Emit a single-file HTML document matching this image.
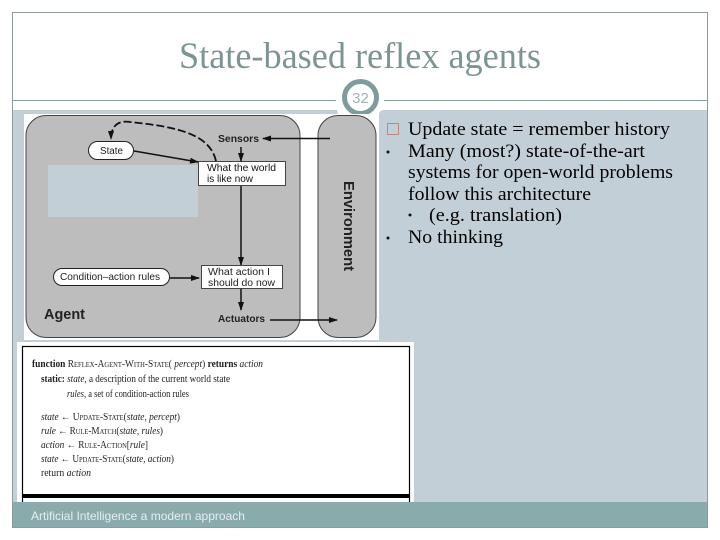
<!DOCTYPE html>
<html><head><meta charset="utf-8"><style>
html,body{margin:0;padding:0;background:#fff;width:720px;height:540px;overflow:hidden}
svg{display:block}
.sc{font-variant:small-caps}
i{font-style:italic}
</style></head><body>
<svg width="720" height="540" viewBox="0 0 720 540" xmlns="http://www.w3.org/2000/svg">
<defs>
<marker id="a" markerWidth="9" markerHeight="7" refX="8" refY="3" orient="auto" markerUnits="userSpaceOnUse"><path d="M0 0L9 3L0 6Z" fill="#111"/></marker>
</defs>
<rect width="720" height="540" fill="#fff"/>
<rect x="12.500" y="12.500" width="695" height="515" fill="#fff" stroke="#8a9c9c" stroke-width="1"/>
<line x1="13" y1="100.500" x2="707" y2="100.500" stroke="#8a9c9c"/>
<rect x="13" y="110" width="694" height="393" fill="#c3cfd6"/>
<path d="M336 100H384V110H384Q379 110 379 115V116H338Z" fill="#fff"/>
<circle cx="360.500" cy="97.500" r="16" fill="#fff" stroke="#7f9c9c" stroke-width="5"/>
<text x="360.500" y="103" font-family="Liberation Sans,sans-serif" font-size="15" fill="#a5b2b2" text-anchor="middle">32</text>
<text x="179" y="68" font-family="Liberation Serif,serif" font-size="37" fill="#7d9494" textLength="362" lengthAdjust="spacingAndGlyphs">State-based reflex agents</text>

<rect x="24" y="114" width="355" height="226" fill="#fff"/>
<rect x="26" y="115.500" width="274" height="222" rx="20" fill="#bdbdbd" stroke="#444" stroke-width="1"/>
<rect x="318" y="115.500" width="58" height="222" rx="20" fill="#bdbdbd" stroke="#444" stroke-width="1"/>
<rect x="48" y="165" width="150" height="52" fill="#c3cfd6"/>

<rect x="88.500" y="141.500" width="45" height="18" rx="9" fill="#fff" stroke="#222"/>
<text x="100" y="154" font-family="Liberation Sans,sans-serif" font-size="10" fill="#222" textLength="23" lengthAdjust="spacingAndGlyphs">State</text>
<rect x="198.500" y="161.500" width="87" height="24" fill="#fff" stroke="#444"/>
<text x="207" y="171" font-family="Liberation Sans,sans-serif" font-size="10.500" fill="#111" textLength="69" lengthAdjust="spacingAndGlyphs">What the world</text>
<text x="207" y="182" font-family="Liberation Sans,sans-serif" font-size="10.500" fill="#111" textLength="46" lengthAdjust="spacingAndGlyphs">is like now</text>
<text x="218" y="142" font-family="Liberation Sans,sans-serif" font-size="10.500" font-weight="bold" fill="#222" textLength="41" lengthAdjust="spacingAndGlyphs">Sensors</text>
<path d="M330 138.500H263" stroke="#111" stroke-width="1.500" fill="none" marker-end="url(#a)"/>
<path d="M241 147V161" stroke="#111" stroke-width="1.500" fill="none" marker-end="url(#a)"/>
<path d="M216 161C210 135 180 127 130 122C118 120 111 126 111 139" stroke="#111" stroke-width="1.800" stroke-dasharray="8 3" fill="none" marker-end="url(#a)"/>
<path d="M134 151L198 162" stroke="#111" stroke-width="1.500" fill="none" marker-end="url(#a)"/>
<path d="M241 186V265" stroke="#111" stroke-width="1.500" fill="none" marker-end="url(#a)"/>

<rect x="53.500" y="268.500" width="116" height="17" rx="8.500" fill="#fff" stroke="#222"/>
<text x="60" y="280" font-family="Liberation Sans,sans-serif" font-size="10.500" fill="#222" textLength="100" lengthAdjust="spacingAndGlyphs">Condition–action rules</text>
<path d="M170 278H199" stroke="#111" stroke-width="1.500" fill="none" marker-end="url(#a)"/>
<rect x="201.500" y="265.500" width="81" height="23" fill="#fff" stroke="#444"/>
<text x="208" y="275" font-family="Liberation Sans,sans-serif" font-size="10.500" fill="#222" textLength="62" lengthAdjust="spacingAndGlyphs">What action I</text>
<text x="208" y="286" font-family="Liberation Sans,sans-serif" font-size="10.500" fill="#222" textLength="67" lengthAdjust="spacingAndGlyphs">should do now</text>
<path d="M241 289V310" stroke="#111" stroke-width="1.500" fill="none" marker-end="url(#a)"/>
<text x="218" y="322" font-family="Liberation Sans,sans-serif" font-size="10.500" font-weight="bold" fill="#222" textLength="47" lengthAdjust="spacingAndGlyphs">Actuators</text>
<path d="M270 320H337" stroke="#111" stroke-width="1.500" fill="none" marker-end="url(#a)"/>
<text x="44" y="319" font-family="Liberation Sans,sans-serif" font-size="15" font-weight="bold" fill="#222" textLength="41" lengthAdjust="spacingAndGlyphs">Agent</text>
<text transform="translate(344,181) rotate(90)" font-family="Liberation Sans,sans-serif" font-size="14.500" font-weight="bold" fill="#222" textLength="90" lengthAdjust="spacingAndGlyphs">Environment</text>

<rect x="17" y="342" width="397" height="161" fill="#fff"/>
<rect x="22.500" y="346.500" width="387" height="157" fill="#fff" stroke="#000" stroke-width="1.200"/>
<rect x="22" y="494" width="388" height="4" fill="#000"/>
<g font-family="Liberation Serif,serif" font-size="10" fill="#222">
<text x="32" y="367" textLength="231" lengthAdjust="spacingAndGlyphs"><tspan font-weight="bold">function</tspan> <tspan class="sc">Reflex-Agent-With-State</tspan>( <tspan font-style="italic">percept</tspan>) <tspan font-weight="bold">returns</tspan> <tspan font-style="italic">action</tspan></text>
<text x="41" y="382" textLength="189" lengthAdjust="spacingAndGlyphs"><tspan font-weight="bold">static:</tspan> <tspan font-style="italic">state</tspan>, a description of the current world state</text>
<text x="67" y="397" textLength="122" lengthAdjust="spacingAndGlyphs"><tspan font-style="italic">rules</tspan>, a set of condition-action rules</text>
<text x="41" y="420" textLength="139" lengthAdjust="spacingAndGlyphs"><tspan font-style="italic">state</tspan> ← <tspan class="sc">Update-State</tspan>(<tspan font-style="italic">state, percept</tspan>)</text>
<text x="41" y="434" textLength="122" lengthAdjust="spacingAndGlyphs"><tspan font-style="italic">rule</tspan> ← <tspan class="sc">Rule-Match</tspan>(<tspan font-style="italic">state, rules</tspan>)</text>
<text x="41" y="448" textLength="107" lengthAdjust="spacingAndGlyphs"><tspan font-style="italic">action</tspan> ← <tspan class="sc">Rule-Action</tspan>[<tspan font-style="italic">rule</tspan>]</text>
<text x="41" y="462" textLength="133" lengthAdjust="spacingAndGlyphs"><tspan font-style="italic">state</tspan> ← <tspan class="sc">Update-State</tspan>(<tspan font-style="italic">state, action</tspan>)</text>
<text x="41" y="476" textLength="50" lengthAdjust="spacingAndGlyphs">return <tspan font-style="italic">action</tspan></text>
</g>

<rect x="13" y="502" width="694" height="25" fill="#8aabab"/>
<text x="31" y="520" font-family="Liberation Sans,sans-serif" font-size="12" fill="#e6eeee" textLength="214" lengthAdjust="spacingAndGlyphs">Artificial Intelligence a modern approach</text>

<rect x="387.500" y="123.500" width="11" height="11" fill="none" stroke="#b98a80"/>
<g font-family="Liberation Serif,serif" font-size="18.500" fill="#000">
<text x="408" y="135" textLength="262" lengthAdjust="spacingAndGlyphs">Update state = remember history</text>
<text x="408" y="157" textLength="237" lengthAdjust="spacingAndGlyphs">Many (most?) state-of-the-art</text>
<text x="408" y="178" textLength="265" lengthAdjust="spacingAndGlyphs">systems for open-world problems</text>
<text x="408" y="200" textLength="183" lengthAdjust="spacingAndGlyphs">follow this architecture</text>
<text x="429" y="221" textLength="133" lengthAdjust="spacingAndGlyphs">(e.g. translation)</text>
<text x="408" y="243" textLength="95" lengthAdjust="spacingAndGlyphs">No thinking</text>
</g>
<circle cx="388" cy="152" r="1.500" fill="#111"/>
<circle cx="388" cy="238" r="1.500" fill="#111"/>
<circle cx="410" cy="215" r="1.500" fill="#111"/>
</svg>
</body></html>
